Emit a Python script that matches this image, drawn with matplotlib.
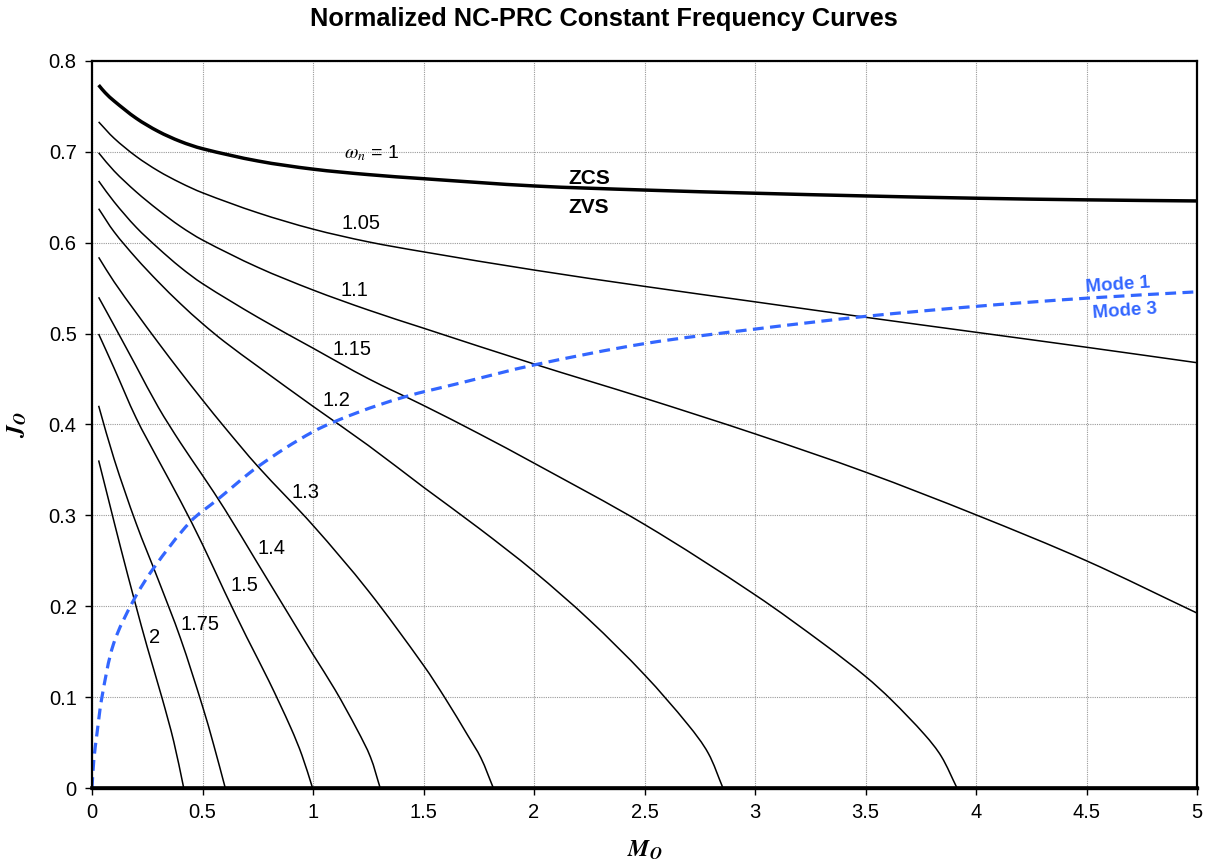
import math
import matplotlib
matplotlib.use('Agg')
import matplotlib.pyplot as plt
from matplotlib.path import Path
from matplotlib.patches import PathPatch

# constant frequency curves, normalized output current Jo vs. voltage gain Mo
wn1_m = [0.03, 0.06, 0.1, 0.2, 0.3, 0.4, 0.5, 0.75, 1.0, 1.25, 1.5, 2.0, 2.5, 3.0, 3.5, 4.0, 4.5, 5.0]
wn1_j = [0.7735, 0.765, 0.756, 0.737, 0.7225, 0.7115, 0.7035, 0.690, 0.681, 0.675, 0.6705, 0.6625, 0.658, 0.6545, 0.6515, 0.649, 0.6472, 0.646]

wn105_m = [0.03, 0.1, 0.2, 0.3, 0.4, 0.5, 0.75, 1.0, 1.25, 1.5, 2.0, 2.5, 3.0, 3.5, 4.0, 4.5, 5.0]
wn105_j = [0.733, 0.715, 0.695, 0.679, 0.666, 0.655, 0.633, 0.615, 0.601, 0.590, 0.570, 0.552, 0.535, 0.518, 0.5015, 0.485, 0.468]

wn11_m = [0.03, 0.1, 0.2, 0.3, 0.4, 0.5, 0.75, 1.0, 1.25, 1.5, 2.0, 2.5, 3.0, 3.5, 4.0, 4.5, 5.0]
wn11_j = [0.699, 0.679, 0.656, 0.636, 0.618, 0.603, 0.573, 0.548, 0.526, 0.506, 0.4666, 0.429, 0.3897, 0.3476, 0.3006, 0.250, 0.1925]

wn115_m = [0.03, 0.1, 0.2, 0.3, 0.4, 0.5, 0.75, 1.0, 1.25, 1.5, 1.75, 2.0, 2.5, 3.0, 3.316, 3.5, 3.617, 3.768, 3.843, 3.914]
wn115_j = [0.668, 0.645, 0.617, 0.594, 0.573, 0.555, 0.518, 0.484, 0.4505, 0.421, 0.390, 0.3575, 0.290, 0.2126, 0.1576, 0.1228, 0.097, 0.0586, 0.0348, 0.0]

wn12_m = [0.03, 0.1, 0.2, 0.3, 0.4, 0.5, 0.6, 0.75, 1.0, 1.25, 1.5, 1.75, 2.0, 2.25, 2.5, 2.697, 2.788, 2.855]
wn12_j = [0.6375, 0.612, 0.583, 0.557, 0.533, 0.511, 0.491, 0.464, 0.420, 0.377, 0.331, 0.286, 0.2383, 0.185, 0.1246, 0.0696, 0.0385, 0.0]

wn13_m = [0.03, 0.1, 0.2, 0.3, 0.4, 0.5, 0.6, 0.75, 1.0, 1.25, 1.5, 1.6, 1.7, 1.76, 1.816]
wn13_j = [0.584, 0.557, 0.523, 0.490, 0.458, 0.427, 0.397, 0.354, 0.289, 0.217, 0.135, 0.098, 0.058, 0.033, 0.0]

wn14_m = [0.03, 0.1, 0.2, 0.3, 0.4, 0.5, 0.6, 0.75, 0.9, 1.0, 1.1, 1.2, 1.26, 1.304]
wn14_j = [0.540, 0.509, 0.464, 0.419, 0.380, 0.344, 0.307, 0.247, 0.187, 0.147, 0.108, 0.064, 0.034, 0.0]

wn15_m = [0.03, 0.1, 0.2, 0.3, 0.4, 0.5, 0.6, 0.7, 0.8, 0.9, 0.95, 0.998]
wn15_j = [0.4996, 0.462, 0.407, 0.361, 0.316, 0.268, 0.216, 0.166, 0.118, 0.066, 0.036, 0.0]

wn175_m = [0.03, 0.1, 0.2, 0.3, 0.4, 0.5, 0.55, 0.603]
wn175_j = [0.4206, 0.362, 0.291, 0.229, 0.165, 0.090, 0.048, 0.0]

wn2_m = [0.03, 0.075, 0.13, 0.196, 0.25, 0.317, 0.37, 0.415]
wn2_j = [0.3605, 0.317, 0.264, 0.203, 0.155, 0.099, 0.051, 0.0]

# boundary between mode 1 and mode 3
mode_m = [0.0, 0.008, 0.0226, 0.045, 0.098, 0.189, 0.279, 0.445, 0.566, 0.753, 1.0, 1.2, 1.416, 1.664, 2.0, 2.5, 3.0, 3.5, 4.0, 4.5, 5.0]
mode_j = [0.0, 0.030, 0.060, 0.100, 0.159, 0.207, 0.242, 0.293, 0.317, 0.354, 0.392, 0.413, 0.4305, 0.4455, 0.4655, 0.489, 0.505, 0.519, 0.530, 0.539, 0.546]

thin_curves = [(wn105_m, wn105_j), (wn11_m, wn11_j), (wn115_m, wn115_j), (wn12_m, wn12_j),
               (wn13_m, wn13_j), (wn14_m, wn14_j), (wn15_m, wn15_j), (wn175_m, wn175_j), (wn2_m, wn2_j)]

# curve labels: text, Mo, Jo
curve_labels = [('1.05', 1.217, 0.621), ('1.1', 1.186, 0.548), ('1.15', 1.176, 0.482),
                ('1.2', 1.104, 0.426), ('1.3', 0.968, 0.325), ('1.4', 0.814, 0.263),
                ('1.5', 0.688, 0.223), ('1.75', 0.489, 0.180), ('2', 0.285, 0.166)]

# rough pixels per unit on each axis, so the smoothing works in screen proportions
SX, SY = 221.0, 908.75


def smooth_path(xs, ys):
    # smoothed line: cubic bezier through every point, chord-length tangents
    p = [(x * SX, y * SY) for x, y in zip(xs, ys)]
    n = len(p)
    d = [math.hypot(p[i + 1][0] - p[i][0], p[i + 1][1] - p[i][1]) for i in range(n - 1)]
    tan = []
    for i in range(n):
        if i == 0:
            a, b, s = p[0], p[1], d[0]
        elif i == n - 1:
            a, b, s = p[-2], p[-1], d[-1]
        else:
            a, b, s = p[i - 1], p[i + 1], d[i - 1] + d[i]
        tan.append(((b[0] - a[0]) / s, (b[1] - a[1]) / s))
    verts = [p[0]]
    codes = [Path.MOVETO]
    for i in range(n - 1):
        h = d[i] / 3
        c1 = (p[i][0] + tan[i][0] * h, p[i][1] + tan[i][1] * h)
        c2 = (p[i + 1][0] - tan[i + 1][0] * h, p[i + 1][1] - tan[i + 1][1] * h)
        verts += [c1, c2, p[i + 1]]
        codes += [Path.CURVE4] * 3
    verts = [(x / SX, y / SY) for x, y in verts]
    return Path(verts, codes)


def draw_curve(ax, xs, ys, **kw):
    ax.add_patch(PathPatch(smooth_path(xs, ys), fill=False, **kw))


plt.rcParams['font.family'] = ['Liberation Sans', 'DejaVu Sans']
plt.rcParams['mathtext.fontset'] = 'stix'

fig = plt.figure(figsize=(12.07, 8.63), dpi=100)
ax = fig.add_axes([92 / 1207, 1 - 788 / 863, 1105 / 1207, 727 / 863])

blue = '#3366ff'

for m, j in thin_curves:
    draw_curve(ax, m, j, edgecolor='black', lw=1.1)
draw_curve(ax, wn1_m, wn1_j, edgecolor='black', lw=2.5, capstyle='butt')
ax.plot([0, 5], [0, 0], color='black', lw=2.6, clip_on=False)
draw_curve(ax, mode_m, mode_j, edgecolor=blue, lw=2.3, linestyle=(0, (3.4, 2.0)))

ax.set_xlim(0, 5)
ax.set_ylim(0, 0.8)
ax.set_xticks([0, 0.5, 1, 1.5, 2, 2.5, 3, 3.5, 4, 4.5, 5])
ax.set_xticklabels(['0', '0.5', '1', '1.5', '2', '2.5', '3', '3.5', '4', '4.5', '5'])
ax.set_yticks([0, 0.1, 0.2, 0.3, 0.4, 0.5, 0.6, 0.7, 0.8])
ax.set_yticklabels(['0', '0.1', '0.2', '0.3', '0.4', '0.5', '0.6', '0.7', '0.8'])
ax.tick_params(labelsize=14.5, length=5, width=1, direction='out', pad=6)
ax.grid(True, color='#9a9a9a', ls=(0, (1, 1)), lw=0.8)
ax.set_axisbelow(True)
for side in ['left', 'right', 'top']:
    ax.spines[side].set_linewidth(1.6)
ax.spines['bottom'].set_linewidth(2.4)

fig.text(0.5, 1 - 19 / 863, 'Normalized NC-PRC Constant Frequency Curves', fontsize=18.3,
         fontweight='bold', ha='center', va='center')
ax.set_xlabel(r'$\mathbfit{M}_\mathbfit{O}$', fontsize=17, labelpad=12)
ax.set_ylabel(r'$\mathbfit{J}_\mathbfit{O}$', fontsize=17, labelpad=14)

ax.text(1.267, 0.699, r'$\omega_n$ = 1', fontsize=14, ha='center', va='center')
ax.text(2.249, 0.671, 'ZCS', fontsize=15, fontweight='bold', ha='center', va='center')
ax.text(2.249, 0.639, 'ZVS', fontsize=15, fontweight='bold', ha='center', va='center')
for txt, m, j in curve_labels:
    ax.text(m, j, txt, fontsize=14.5, ha='center', va='center')
ax.text(4.643, 0.5535, 'Mode 1', fontsize=13.5, fontweight='bold', color=blue,
        ha='center', va='center', rotation=4)
ax.text(4.674, 0.525, 'Mode 3', fontsize=13.5, fontweight='bold', color=blue,
        ha='center', va='center', rotation=4)

fig.savefig('out.png', dpi=100)
